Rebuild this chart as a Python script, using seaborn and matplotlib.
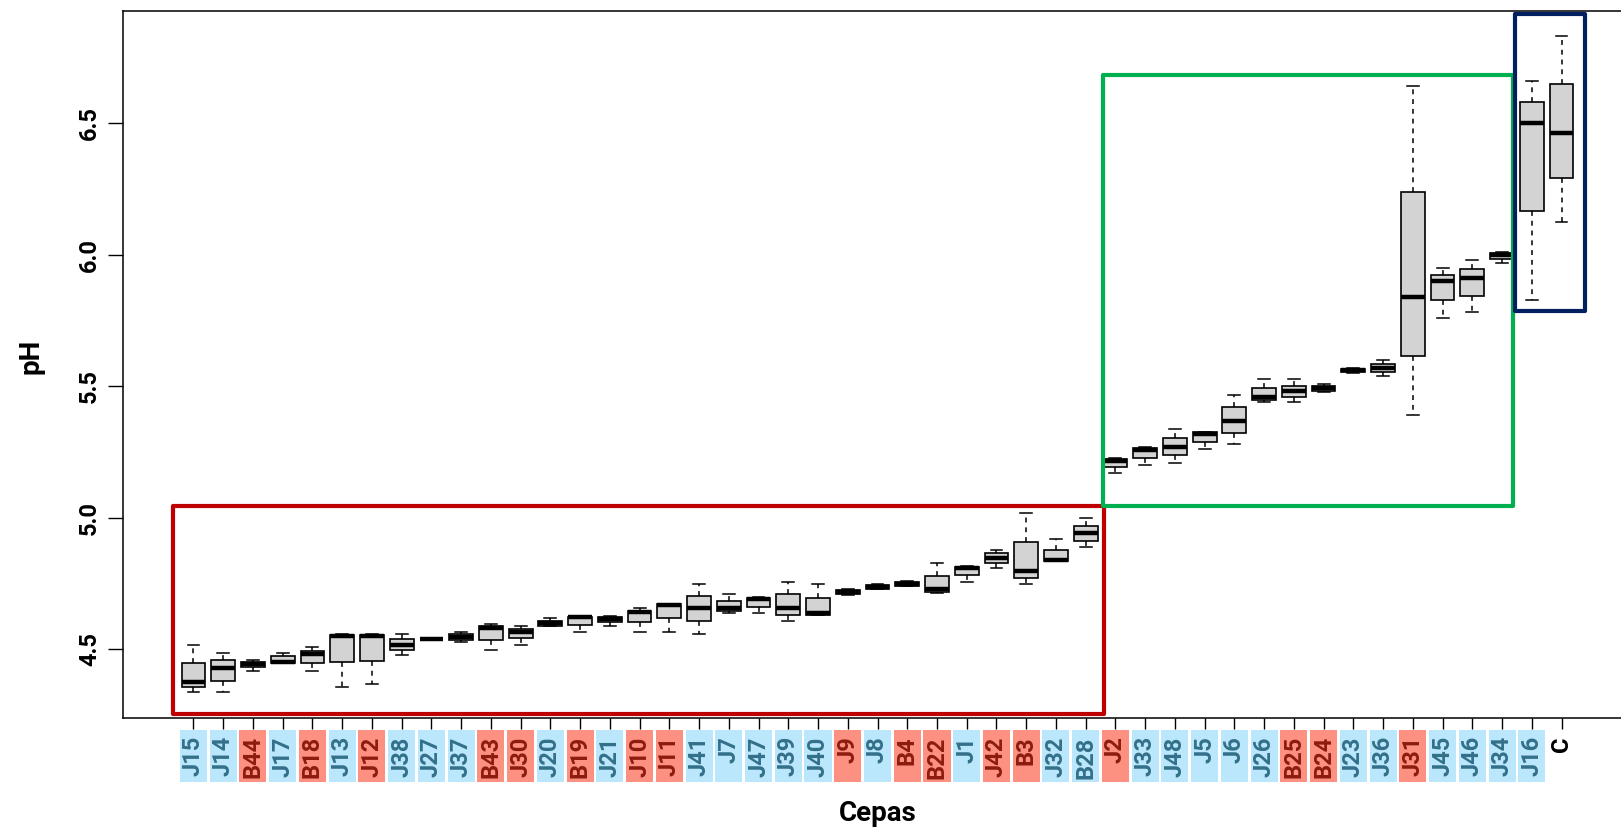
import numpy as np
import pandas as pd
import matplotlib
matplotlib.use("Agg")
import matplotlib.pyplot as plt
import matplotlib.transforms as mtransforms
from matplotlib.patches import Rectangle
import seaborn as sns

# ---------------- data ----------------
strains = ["J15", "J14", "B44", "J17", "B18", "J13", "J12", "J38", "J27", "J37",
           "B43", "J30", "J20", "B19", "J21", "J10", "J11", "J41", "J7", "J47",
           "J39", "J40", "J9", "J8", "B4", "B22", "J1", "J42", "B3", "J32",
           "B28", "J2", "J33", "J48", "J5", "J6", "J26", "B25", "B24", "J23",
           "J36", "J31", "J45", "J46", "J34", "J16", "C"]
# label group: r = salmon label, b = light-blue label, n = control (no box)
label_group = ["b", "b", "r", "b", "r", "b", "r", "b", "b", "b",
               "r", "r", "b", "r", "b", "r", "r", "b", "b", "b",
               "b", "b", "r", "b", "r", "r", "b", "r", "r", "b",
               "b", "r", "b", "b", "b", "b", "b", "r", "r", "b",
               "b", "r", "b", "b", "b", "b", "n"]
ph_min = [4.337, 4.337, 4.417, 4.449, 4.417, 4.356, 4.367, 4.477, 4.540, 4.526,
          4.497, 4.517, 4.589, 4.567, 4.588, 4.567, 4.567, 4.557, 4.637, 4.637,
          4.606, 4.631, 4.706, 4.729, 4.740, 4.715, 4.757, 4.808, 4.747, 4.835,
          4.888, 5.170, 5.199, 5.210, 5.260, 5.280, 5.440, 5.440, 5.479, 5.550,
          5.540, 5.389, 5.760, 5.781, 5.970, 5.830, 6.126]
ph_q1 = [4.356, 4.380, 4.431, 4.449, 4.446, 4.451, 4.456, 4.496, 4.540, 4.536,
         4.536, 4.541, 4.589, 4.591, 4.602, 4.602, 4.618, 4.606, 4.647, 4.661,
         4.631, 4.631, 4.711, 4.729, 4.740, 4.719, 4.781, 4.828, 4.772, 4.835,
         4.912, 5.194, 5.229, 5.238, 5.288, 5.323, 5.449, 5.459, 5.481, 5.553,
         5.554, 5.615, 5.830, 5.845, 5.986, 6.166, 6.294]
ph_med = [4.374, 4.427, 4.442, 4.452, 4.483, 4.551, 4.551, 4.517, 4.540, 4.548,
          4.580, 4.567, 4.599, 4.621, 4.614, 4.640, 4.667, 4.658, 4.658, 4.690,
          4.658, 4.637, 4.718, 4.737, 4.748, 4.728, 4.807, 4.847, 4.798, 4.840,
          4.941, 5.214, 5.259, 5.271, 5.318, 5.369, 5.459, 5.481, 5.494, 5.561,
          5.570, 5.841, 5.899, 5.912, 5.999, 6.501, 6.464]
ph_q3 = [4.447, 4.458, 4.452, 4.473, 4.492, 4.553, 4.553, 4.538, 4.540, 4.558,
         4.588, 4.578, 4.609, 4.624, 4.624, 4.647, 4.671, 4.704, 4.682, 4.694,
         4.708, 4.694, 4.724, 4.744, 4.756, 4.778, 4.813, 4.864, 4.908, 4.878,
         4.968, 5.224, 5.264, 5.305, 5.325, 5.420, 5.495, 5.503, 5.500, 5.567,
         5.585, 6.241, 5.925, 5.947, 6.008, 6.581, 6.649]
ph_max = [4.517, 4.487, 4.458, 4.487, 4.507, 4.558, 4.558, 4.557, 4.540, 4.567,
          4.597, 4.587, 4.618, 4.628, 4.628, 4.658, 4.671, 4.747, 4.708, 4.698,
          4.757, 4.747, 4.729, 4.748, 4.760, 4.829, 4.818, 4.879, 5.019, 4.918,
          4.998, 5.229, 5.269, 5.339, 5.328, 5.468, 5.529, 5.529, 5.510, 5.570,
          5.600, 6.641, 5.950, 5.979, 6.010, 6.663, 6.833]
y_ticks = [4.5, 5.0, 5.5, 6.0, 6.5]

# long table: five observations per strain reproduce the five-number summary
rows = []
for s, a, b, c, d, e in zip(strains, ph_min, ph_q1, ph_med, ph_q3, ph_max):
    for v in (a, b, c, d, e):
        rows.append({"Cepas": s, "pH": v})
df = pd.DataFrame(rows)

# ---------------- styling ----------------
FONT = "Roboto"
plt.rcParams["font.family"] = [FONT, "DejaVu Sans"]
plt.rcParams["font.weight"] = "bold"

W, H = 1621, 830
fig = plt.figure(figsize=(W / 100, H / 100), dpi=100)
fig.patch.set_facecolor("white")
ax_left, ax_right, ax_top, ax_bottom = 122.7, 1632.3, 10.7, 718.3
ax = fig.add_axes([ax_left / W, 1 - ax_bottom / H,
                   (ax_right - ax_left) / W, (ax_bottom - ax_top) / H])

sns.boxplot(data=df, x="Cepas", y="pH", order=strains, ax=ax,
            whis=(0, 100), width=0.8, color="#D3D3D3", saturation=1,
            linecolor="black", linewidth=1.2, showfliers=False,
            boxprops=dict(edgecolor="black", linewidth=1.2),
            medianprops=dict(color="black", linewidth=3.2),
            whiskerprops=dict(color="black", linewidth=1.1, linestyle=(0, (3.2, 3.2))),
            capprops=dict(color="black", linewidth=1.1))

n = len(strains)
ax.set_xlim(-2.38, n + 1.38)
ax.set_ylim(4.237, 6.929)
ax.set_yticks(y_ticks)
ax.set_yticklabels([f"{t:.1f}" for t in y_ticks])

for sp in ax.spines.values():
    sp.set_color("black")
    sp.set_linewidth(1.1)

ax.tick_params(axis="x", length=7.9, width=1.0, pad=5.0, labelsize=17,
               labelrotation=90)
ax.tick_params(axis="y", length=10.5, width=1.0, pad=5.0, labelsize=17,
               labelrotation=90)
for lab in ax.get_yticklabels():
    lab.set_va("center")
    lab.set_fontweight("bold")

text_colors = {"r": "#8E1B10", "b": "#33708A", "n": "black"}
bg_colors = {"r": "#FD9181", "b": "#BAE7FB"}
for lab, g in zip(ax.get_xticklabels(), label_group):
    lab.set_color(text_colors[g])
    lab.set_fontweight("bold")

# label background tiles (under each strain name)
trans = mtransforms.blended_transform_factory(ax.transData, ax.transAxes)
y_hi = -(730 - ax_bottom) / (ax_bottom - ax_top)
y_lo = -(782 - ax_bottom) / (ax_bottom - ax_top)
for i, g in enumerate(label_group):
    if g in bg_colors:
        ax.add_patch(Rectangle((i - 0.455, y_lo), 0.91, y_hi - y_lo,
                               transform=trans, facecolor=bg_colors[g],
                               edgecolor="none", clip_on=False, zorder=0.5))

# highlight frames for the three groups
frames = [(-0.69, 30.62, 4.253, 5.046, "#C00000"),
          (30.58, 44.38, 5.046, 6.685, "#00B050"),
          (44.44, 46.80, 5.785, 6.915, "#002060")]
for x0, x1, y0, y1, col in frames:
    ax.add_patch(Rectangle((x0, y0), x1 - x0, y1 - y0, fill=False,
                           edgecolor=col, linewidth=3.0, joinstyle="round",
                           clip_on=False, zorder=3))

ax.set_xlabel("Cepas", fontsize=20, fontweight="bold", va="center")
ax.xaxis.set_label_coords(0.5, -(813.6 - ax_bottom) / (ax_bottom - ax_top))
ax.set_ylabel("pH", fontsize=20, fontweight="bold", va="center")
ax.yaxis.set_label_coords(-(122.7 - 31) / (ax_right - ax_left), 0.511)

fig.savefig("out.png", dpi=100)
